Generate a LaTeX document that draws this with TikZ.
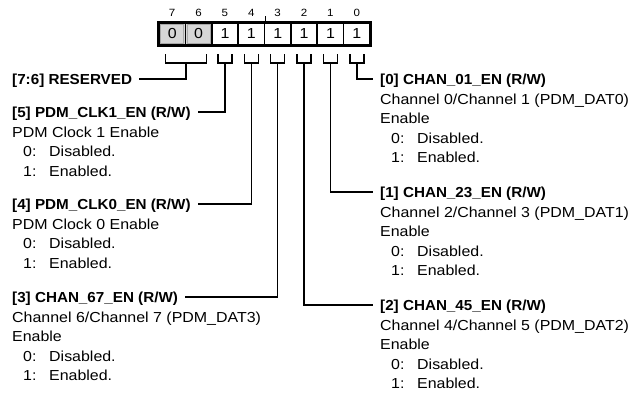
\documentclass[tikz,border=0pt]{standalone}
\usepackage{fontspec}
\setmainfont{Liberation Sans}[FakeStretch=1.1,BoldFeatures={FakeStretch=1.05}]
\usetikzlibrary{positioning}
\definecolor{CellGray}{HTML}{D6D6D6}
\definecolor{CellEdge}{HTML}{A8A8A8}
\newcommand{\opt}[2]{\hspace*{11pt}\makebox[26pt][l]{#1:}#2}

\begin{document}
\begin{tikzpicture}[x=1pt,y=-1pt,
    cell/.style={draw,line width=1.6pt,minimum width=26.375pt,minimum height=22pt,
                 inner sep=0pt,font=\fontsize{14.5}{16}\selectfont},
    bitnum/.style={font=\fontsize{10.5}{11}\selectfont,inner sep=0pt},
    wire/.style={line width=1.5pt},
    title/.style={font=\fontsize{14.5}{16}\selectfont\bfseries,anchor=west,inner xsep=7pt,
                  inner ysep=0pt,text height=10.5pt,text depth=0pt},
    body/.style={font=\fontsize{14.5}{19.5}\selectfont,align=left,anchor=north west,inner sep=0pt}
  ]
  \useasboundingbox (0,0) rectangle (636,396);
  % register cells
  \foreach \b/\v/\f in {7/0/CellGray,6/0/CellGray,5/1/white,4/1/white,3/1/white,2/1/white,1/1/white,0/1/white}{
    \node[cell,fill=\f] (c\b) at ({159+(7.5-\b)*26.375},34) {\v};
    \node[bitnum] (n\b) at ({159+(7.5-\b)*26.375},13) {\b};
  }
  \foreach \b in {7,6}
    \draw[CellEdge,line width=0.6pt] ([shift={(2.5pt,-2.5pt)}]c\b.north west)
      rectangle ([shift={(-2.5pt,2.5pt)}]c\b.south east);
  \draw[line width=1.8pt] (c7.north west) rectangle (c0.south east);
  \draw[line width=1pt] (c4.north east) -- ++(0,-6);
  % brackets
  \coordinate (b76) at (185.75,63);
  \draw[wire] (b76) ++(-20.5,-9) -- ++(0,9) -- ++(41,0) -- ++(0,-9);
  \foreach \b in {5,4,3,2,1,0}{
    \coordinate (b\b) at ({159+(7.5-\b)*26.375},63);
    \draw[wire] (b\b) ++(-7,-9) -- ++(0,9) -- ++(14,0) -- ++(0,-9);
  }
  % field titles
  \node[title] (t76) at (5,79)  {[7:6] RESERVED};
  \node[title] (t5)  at (5,112) {[5] PDM\_CLK1\_EN (R/W)};
  \node[title] (t4)  at (5,204) {[4] PDM\_CLK0\_EN (R/W)};
  \node[title] (t3)  at (5,297) {[3] CHAN\_67\_EN (R/W)};
  \node[title] (t0)  at (373,79)  {[0] CHAN\_01\_EN (R/W)};
  \node[title] (t1)  at (373,192) {[1] CHAN\_23\_EN (R/W)};
  \node[title] (t2)  at (373,305) {[2] CHAN\_45\_EN (R/W)};
  % field descriptions
  \node[body] (d5) at ([shift={(7pt,-9pt)}]t5.south west)
    {PDM Clock 1 Enable\\\opt{0}{Disabled.}\\\opt{1}{Enabled.}};
  \node[body] (d4) at ([shift={(7pt,-9pt)}]t4.south west)
    {PDM Clock 0 Enable\\\opt{0}{Disabled.}\\\opt{1}{Enabled.}};
  \node[body] (d3) at ([shift={(7pt,-9pt)}]t3.south west)
    {Channel 6/Channel 7 (PDM\_DAT3)\\Enable\\\opt{0}{Disabled.}\\\opt{1}{Enabled.}};
  \node[body] (d0) at ([shift={(7pt,-9pt)}]t0.south west)
    {Channel 0/Channel 1 (PDM\_DAT0)\\Enable\\\opt{0}{Disabled.}\\\opt{1}{Enabled.}};
  \node[body] (d1) at ([shift={(7pt,-9pt)}]t1.south west)
    {Channel 2/Channel 3 (PDM\_DAT1)\\Enable\\\opt{0}{Disabled.}\\\opt{1}{Enabled.}};
  \node[body] (d2) at ([shift={(7pt,-9pt)}]t2.south west)
    {Channel 4/Channel 5 (PDM\_DAT2)\\Enable\\\opt{0}{Disabled.}\\\opt{1}{Enabled.}};
  % connectors
  \draw[wire] (b76) |- (t76.east);
  \draw[wire] (b5) |- (t5.east);
  \draw[wire] (b4) |- (t4.east);
  \draw[wire] (b3) |- (t3.east);
  \draw[wire] (b2) |- (t2.west);
  \draw[wire] (b1) |- (t1.west);
  \draw[wire] (b0) |- (t0.west);
\end{tikzpicture}
\end{document}
